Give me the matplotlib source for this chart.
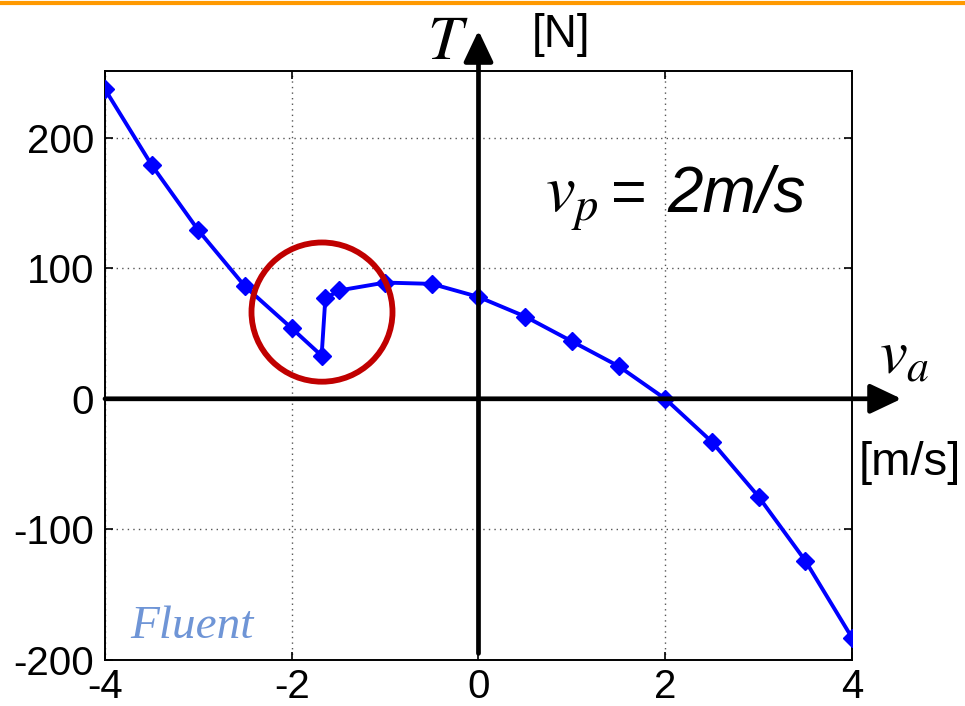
import numpy as np
import matplotlib
matplotlib.use("Agg")
import matplotlib.pyplot as plt
from matplotlib.patches import Ellipse

plt.rcParams['font.family'] = ['Liberation Sans', 'DejaVu Sans']
plt.rcParams['mathtext.fontset'] = 'stix'
plt.rcParams['axes.unicode_minus'] = False

# thrust vs. advance speed, Fluent results at vp = 2 m/s
va = [-4, -3.5, -3, -2.5, -2, -1.68, -1.64, -1.49, -1, -0.5, 0, 0.5, 1, 1.5, 2, 2.5, 3, 3.5, 4]
thrust = [237, 179, 129, 86, 54, 33, 77, 83, 89, 88, 78, 63, 44, 25, 0, -33, -75, -124, -183]

xticks = [-4, -2, 0, 2, 4]
yticks = [-200, -100, 0, 100, 200]

fig = plt.figure(figsize=(9.65, 7.06), dpi=100)
ax = fig.add_axes([0.1088, 0.0652, 0.7741, 0.8342])

ax.plot(va, thrust, color='#0000ff', lw=2.8, marker='D', ms=9.5, zorder=4)

ax.set_xlim(-4, 4)
ax.set_ylim(-200, 251)
ax.set_xticks(xticks)
ax.set_yticks(yticks)
ax.tick_params(direction='in', length=6, width=1.2, labelsize=29, top=True, right=True, pad=8)
ax.tick_params(axis='x', pad=6)
for s in ax.spines.values():
    s.set_linewidth(1.4)
ax.grid(True, linestyle=(0, (1, 3)), color='#555555', lw=1.0)

# main axes through the origin, with arrow heads
arrow = dict(arrowstyle='-|>,head_length=0.95,head_width=0.45', lw=3.4, color='black',
             mutation_scale=20, shrinkA=0, shrinkB=0)
ax.annotate('', xy=(0, 282), xytext=(0, -195), arrowprops=arrow, annotation_clip=False, zorder=5)
ax.annotate('', xy=(4.53, 0), xytext=(-4, 0), arrowprops=arrow, annotation_clip=False, zorder=5)

# highlight the stall region
ax.add_patch(Ellipse((-1.676, 66.4), 1.51, 106.6, fill=False, ec='#c00000', lw=4.2,
                     zorder=6, clip_on=False))

fig.text(0.442, 0.916, r'$T$', fontsize=45, va='baseline', ha='left')
fig.text(0.551, 0.934, '[N]', fontsize=33, va='baseline', ha='left')
fig.text(0.911, 0.471, r'$v_a$', fontsize=45, va='baseline', ha='left')
fig.text(0.890, 0.327, '[m/s]', fontsize=34, va='baseline', ha='left')

fig.text(0.565, 0.700, r'$v_p$', fontsize=48, va='baseline', ha='left')
fig.text(0.633, 0.700, '=', fontsize=44, va='baseline', ha='left')
fig.text(0.692, 0.700, '2m/s', fontsize=46, style='italic', va='baseline', ha='left')

ax.text(-3.73, -183, 'Fluent', fontsize=34, family='Liberation Serif', style='italic',
        color='#6f95d6', va='baseline', ha='left')

# orange rule at the top of the slide
fig.add_artist(plt.Line2D([0, 1], [0.9958, 0.9958], color='#ff9900', lw=3.0,
                          transform=fig.transFigure))

fig.savefig('out.png', dpi=100)
